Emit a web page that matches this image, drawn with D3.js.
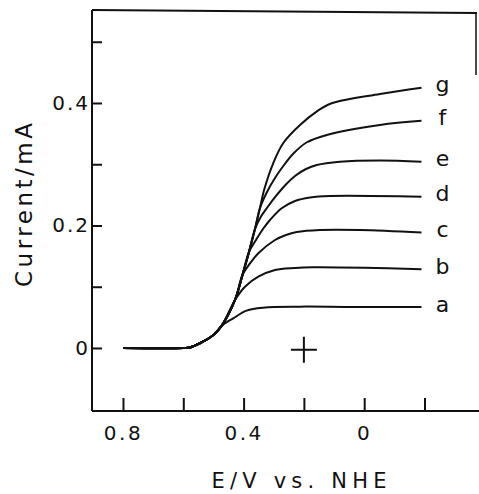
<!DOCTYPE html>
<html>
<head>
<meta charset="utf-8">
<script src="https://cdn.jsdelivr.net/npm/d3@7"></script>
<style>
  html, body { margin: 0; padding: 0; background: #fff; }
  svg { display: block; }
  text { font-family: "DejaVu Sans", sans-serif; fill: #111; }
</style>
</head>
<body>
<svg id="chart" width="479" height="494"></svg>
<script>
// ---- data (E in V vs NHE, current in mA) ----
const seriesNames = ["a", "b", "c", "d", "e", "f", "g"];
const baseline = [[0.80, 0], [0.60, 0], [0.578, 0.0008], [0.545, 0.0077], [0.50, 0.0212], [0.473, 0.036]];
const stem = [[0.4285, 0.0784], [0.4037, 0.1192], [0.3821, 0.1567], [0.3622, 0.1943], [0.3456, 0.2286]];
const stemUsed = { a: 0, b: 1, c: 2, d: 3, e: 4, f: 5, g: 5 };
const curveA = [[0.4345, 0.0484], [0.390, 0.0609], [0.335, 0.0658], [0.214, 0.0675], [0.05, 0.067], [-0.19, 0.0668]];
const curveB = [[0.3954, 0.1001], [0.3512, 0.1164], [0.2958, 0.1273], [0.2295, 0.1306], [0.1698, 0.1318], [0.0, 0.1310], [-0.19, 0.1285]];
const curveC = [[0.3788, 0.1380], [0.3512, 0.1546], [0.2958, 0.1763], [0.2594, 0.1845], [0.2239, 0.1894], [0.1466, 0.1927], [0.0139, 0.1927], [-0.19, 0.1886]];
const curveD = [[0.3589, 0.1763], [0.3357, 0.1943], [0.3124, 0.2090], [0.2736, 0.2281], [0.2295, 0.2400], [0.1797, 0.2457], [0.1134, 0.2482], [-0.19, 0.2470]];
const curveE = [[0.3423, 0.2147], [0.3191, 0.2310], [0.2925, 0.2482], [0.2627, 0.2653], [0.2295, 0.2808], [0.1930, 0.2922], [0.1575, 0.2988], [0.0803, 0.3042], [-0.0524, 0.3061], [-0.19, 0.3042]];
const curveF = [[0.3224, 0.2547], [0.2959, 0.2776], [0.2683, 0.2971], [0.2362, 0.3167], [0.1914, 0.3355], [0.1240, 0.3478], [-0.0524, 0.3641], [-0.19, 0.3709]];
const curveG = [[0.3320, 0.2580], [0.3015, 0.3020], [0.2683, 0.3347], [0.2129, 0.3641], [0.1579, 0.3860], [0.1078, 0.3995], [-0.0524, 0.4147], [-0.19, 0.425]];
const ownPoints = { a: curveA, b: curveB, c: curveC, d: curveD, e: curveE, f: curveF, g: curveG };
const crossMark = [0.2, -0.003];
const xTicks = [0.8, 0.6, 0.4, 0.2, 0, -0.2];
const xTickLabels = [0.8, 0.4, 0];
const yTicks = [0, 0.1, 0.2, 0.3, 0.4, 0.5];
const yTickLabels = [0, 0.2, 0.4];
const xTitle = "E/V vs. NHE";
const yTitle = "Current/mA";

// ---- layout ----
const mLeft = 92, mRight = 479, mTop = 11, mBottom = 411;
const x = d3.scaleLinear().domain([0.9028, -0.3808]).range([mLeft, mRight]);
const y = d3.scaleLinear().domain([-0.1029, 0.5502]).range([mBottom, mTop]);

const svg = d3.select("#chart");
const ink = "#111";

// frame
svg.append("line").attr("x1", mLeft).attr("y1", mTop - 1).attr("x2", 477).attr("y2", mTop + 2)
  .attr("stroke", ink).attr("stroke-width", 1.8);
svg.append("line").attr("x1", 476).attr("y1", mTop + 2).attr("x2", 476).attr("y2", 75)
  .attr("stroke", ink).attr("stroke-width", 1.5);

// x axis
const xAxis = d3.axisBottom(x).tickValues(xTicks).tickSize(-13).tickSizeOuter(0)
  .tickPadding(15)
  .tickFormat(d => xTickLabels.includes(d) ? d3.format("")(d) : "");
const gx = svg.append("g").attr("transform", `translate(0,${mBottom})`).call(xAxis);
gx.attr("font-size", null).attr("font-family", null);
gx.select(".domain").attr("stroke", ink).attr("stroke-width", 2)
  .attr("d", `M${mLeft},0H${mRight}`);
gx.selectAll(".tick line").attr("stroke", ink).attr("stroke-width", 2);
gx.selectAll(".tick text").style("font-size", "20px").style("letter-spacing", "2.5px")
  .attr("dx", 0).attr("fill", ink);

// y axis
const yAxis = d3.axisLeft(y).tickValues(yTicks).tickSize(-10).tickSizeOuter(0)
  .tickPadding(0)
  .tickFormat(d => yTickLabels.includes(d) ? d3.format("")(d) : "");
const gy = svg.append("g").attr("transform", `translate(${mLeft},0)`).call(yAxis);
gy.attr("font-size", null).attr("font-family", null);
gy.select(".domain").attr("stroke", ink).attr("stroke-width", 2)
  .attr("d", `M0,${mTop - 1}V${mBottom}`);
gy.selectAll(".tick line").attr("stroke", ink).attr("stroke-width", 2);
gy.selectAll(".tick text").style("font-size", "20px").style("letter-spacing", "2px")
  .attr("x", -2).attr("fill", ink);

// curves
const line = d3.line().x(d => x(d[0])).y(d => y(d[1])).curve(d3.curveCatmullRom.alpha(0.5));
seriesNames.forEach(name => {
  const pts = baseline.concat(stem.slice(0, stemUsed[name]), ownPoints[name]);
  svg.append("path").attr("d", line(pts)).attr("fill", "none")
    .attr("stroke", ink).attr("stroke-width", 2).attr("stroke-linejoin", "round");
  const last = ownPoints[name][ownPoints[name].length - 1];
  svg.append("text").attr("x", x(last[0]) + 21).attr("y", y(last[1])).attr("dy", 4.5)
    .attr("text-anchor", "middle").style("font-size", "22px").text(name);
});

// cross marker
const cx = x(crossMark[0]), cy = y(crossMark[1]);
svg.append("path").attr("d", `M${cx - 13},${cy}H${cx + 13}M${cx},${cy - 13}V${cy + 13}`)
  .attr("stroke", ink).attr("stroke-width", 2).attr("fill", "none");

// titles
svg.append("text").attr("x", 299).attr("y", 488).attr("text-anchor", "middle")
  .style("font-size", "21px").attr("textLength", 175).attr("lengthAdjust", "spacing").text(xTitle);
svg.append("text").attr("transform", "translate(32,205) rotate(-90)").attr("text-anchor", "middle")
  .style("font-size", "23px").attr("textLength", 164).attr("lengthAdjust", "spacing").text(yTitle);
</script>
</body>
</html>
